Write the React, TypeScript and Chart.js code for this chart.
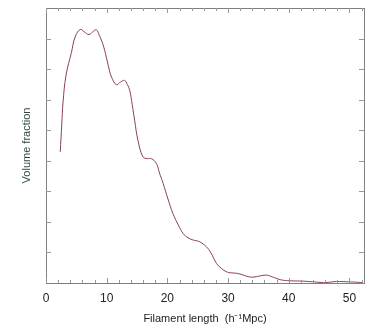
import React, { useEffect, useRef } from "react";
import { Chart, registerables } from "chart.js";

Chart.register(...registerables);

const lengths = [2.35, 2.6, 2.8, 3.3, 4.2, 4.8, 5.64, 6.3, 7.06, 7.7, 8.28, 8.8, 9.4, 9.93, 10.4, 10.8, 11.58, 12.3, 12.95, 13.4, 13.8, 14.2, 14.6, 15.15, 15.97, 16.7, 17.36, 18.2, 18.7, 19.3, 20.1, 20.9, 21.8, 22.6, 23.4, 24.2, 25.3, 26.4, 27.2, 28.1, 28.9, 29.7, 30.5, 31.4, 32.5, 33.3, 34.1, 35.2, 36.3, 37.0, 37.7, 38.4, 39.1, 40.5, 41.8, 43.2, 44.6, 45.7, 46.5, 47.3, 48.4, 49.5, 50.8, 52.2];
const fractions = [4.29, 5.2, 5.9, 6.8, 7.55, 8.05, 8.3, 8.22, 8.13, 8.22, 8.29, 8.1, 7.8, 7.4, 7.0, 6.74, 6.49, 6.58, 6.63, 6.5, 6.3, 5.85, 5.33, 4.67, 4.13, 4.07, 4.07, 3.91, 3.6, 3.26, 2.75, 2.28, 1.9, 1.62, 1.48, 1.41, 1.35, 1.19, 0.98, 0.64, 0.48, 0.37, 0.33, 0.32, 0.26, 0.21, 0.19, 0.23, 0.26, 0.22, 0.17, 0.12, 0.09, 0.07, 0.065, 0.05, 0.03, 0.01, 0.02, 0.04, 0.05, 0.04, 0.03, 0.01];
const xLabelValues = [0, 10, 20, 30, 40, 50];
const X_MIN = 0;
const X_MAX = 52.4;
const Y_MIN = 0;
const Y_MAX = 9;
const xTitle = "Filament length  (h\u207B\u00B9Mpc)";
const yTitle = "Volume fraction";

const FONT = "'Liberation Sans', Arial, sans-serif";

const framePlugin = {
  id: "frame",
  afterDraw(chart: any) {
    const { ctx, chartArea: a, scales } = chart;
    const xs = scales.x;
    const ys = scales.y;
    ctx.save();
    ctx.strokeStyle = "#808080";
    ctx.lineWidth = 1;
    ctx.strokeRect(Math.round(a.left) + 0.5, Math.round(a.top) + 0.5, Math.round(a.right - a.left), Math.round(a.bottom - a.top));
    ctx.strokeStyle = "#999";
    ctx.beginPath();
    for (let v = 0; v <= X_MAX; v += 2) {
      const px = Math.round(xs.getPixelForValue(v)) + 0.5;
      const len = v % 10 === 0 ? 5 : 3;
      ctx.moveTo(px, a.bottom);
      ctx.lineTo(px, a.bottom - len);
      ctx.moveTo(px, a.top);
      ctx.lineTo(px, a.top + len);
    }
    for (let v = Y_MIN + 1; v < Y_MAX; v += 1) {
      const py = Math.round(ys.getPixelForValue(v)) + 0.5;
      ctx.moveTo(a.left, py);
      ctx.lineTo(a.left + 5, py);
      ctx.moveTo(a.right, py);
      ctx.lineTo(a.right - 5, py);
    }
    ctx.stroke();
    ctx.fillStyle = "#222";
    ctx.font = `11px ${FONT}`;
    ctx.textAlign = "center";
    ctx.textBaseline = "middle";
    ctx.fillText(xTitle, (a.left + a.right) / 2, a.bottom + 36);
    ctx.translate(27, (a.top + a.bottom) / 2);
    ctx.rotate(-Math.PI / 2);
    ctx.fillStyle = "#2f4a3c";
    ctx.fillText(yTitle, 0, 0);
    ctx.restore();
  },
};

export default function App() {
  const ref = useRef<HTMLCanvasElement | null>(null);
  useEffect(() => {
    document.body.style.margin = "0";
    const chart = new Chart(ref.current as HTMLCanvasElement, {
      type: "line",
      data: {
        datasets: [
          {
            data: lengths.map((x, i) => ({ x, y: fractions[i] })),
            borderColor: "#8a4050",
            borderWidth: 1,
            pointRadius: 0,
            tension: 0.4,
            fill: false,
          },
        ],
      },
      options: {
        animation: false,
        responsive: false,
        events: [],
        layout: { padding: { left: 0, right: 4, top: 8, bottom: 0 } },
        plugins: { legend: { display: false }, tooltip: { enabled: false } },
        scales: {
          x: {
            type: "linear",
            min: X_MIN,
            max: X_MAX,
            afterBuildTicks: (s: any) => {
              s.ticks = xLabelValues.map((v) => ({ value: v }));
            },
            afterFit: (s: any) => {
              s.height = 44;
            },
            grid: { display: false, drawTicks: false },
            border: { display: false },
            ticks: {
              autoSkip: false,
              maxRotation: 0,
              padding: 8,
              color: "#222",
              font: { family: FONT, size: 12 },
            },
          },
          y: {
            type: "linear",
            min: Y_MIN,
            max: Y_MAX,
            afterFit: (s: any) => {
              s.width = 46;
            },
            grid: { display: false, drawTicks: false },
            border: { display: false },
            ticks: { display: false },
          },
        },
      },
      plugins: [framePlugin],
    } as any);
    return () => chart.destroy();
  }, []);
  return (
    <div style={{ position: "absolute", left: 0, top: 0, width: 368, height: 327, background: "#fff" }}>
      <canvas ref={ref} width={368} height={327} style={{ width: 368, height: 327, display: "block" }} />
    </div>
  );
}
